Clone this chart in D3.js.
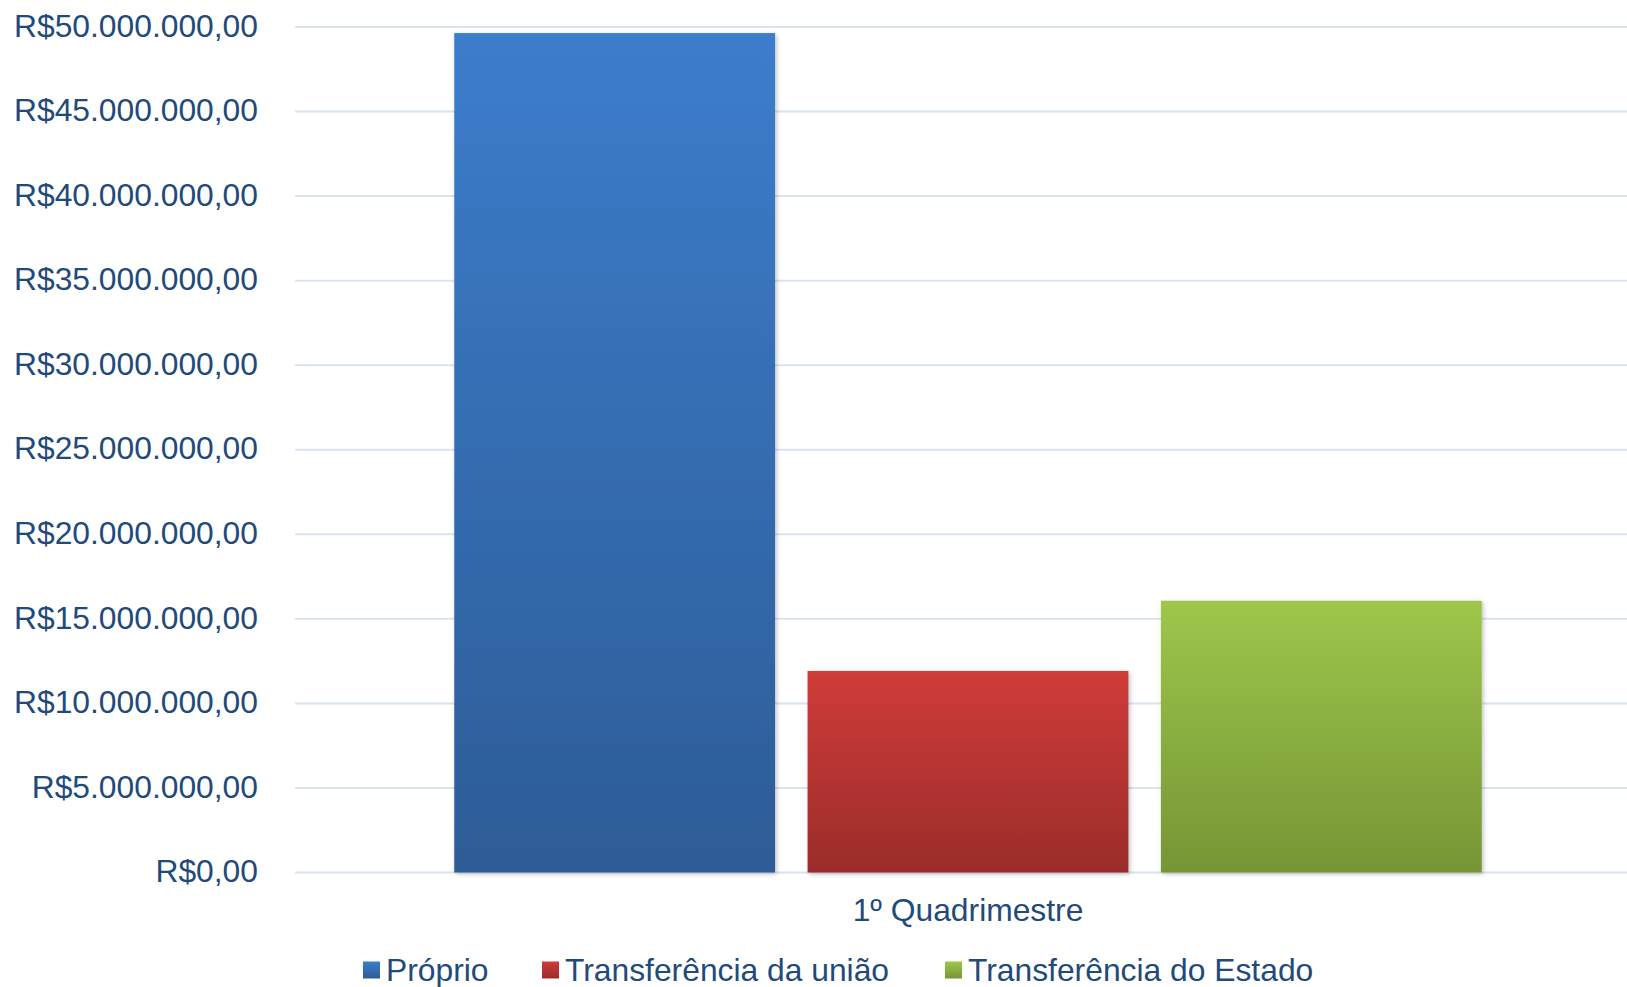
<!DOCTYPE html>
<html><head><meta charset="utf-8">
<script src="https://cdn.jsdelivr.net/npm/d3@7"></script>
<style>
html,body{margin:0;padding:0;background:#fff;}
svg{display:block;font-family:"Liberation Sans",Arial,sans-serif;}
</style></head>
<body>
<script>
const categories = ["1º Quadrimestre"];
const seriesNames = ["Próprio", "Transferência da união", "Transferência do Estado"];
const valuesProprio = [49640000];
const valuesUniao = [11920000];
const valuesEstado = [16070000];
const tickValues = [0,5e6,10e6,15e6,20e6,25e6,30e6,35e6,40e6,45e6,50e6];
const seriesColors = [["#3C7DCC","#2D5C96"],["#CF3C3A","#9B2C2A"],["#9EC64B","#769535"]];

const W = 1627, H = 987;
const FS = 31.8;
const svg = d3.select("body").append("svg").attr("width", W).attr("height", H);
const defs = svg.append("defs");
seriesColors.forEach((c,i)=>{
  const g = defs.append("linearGradient").attr("id","g"+i).attr("x1",0).attr("y1",0).attr("x2",0).attr("y2",1);
  g.append("stop").attr("offset","0%").attr("stop-color",c[0]);
  g.append("stop").attr("offset","100%").attr("stop-color",c[1]);
});
const f = defs.append("filter").attr("id","sh").attr("x","-5%").attr("y","-5%").attr("width","115%").attr("height","115%");
f.append("feDropShadow").attr("dx",1.5).attr("dy",1.5).attr("stdDeviation",2).attr("flood-color","#000").attr("flood-opacity",0.25);

const y = d3.scaleLinear().domain([0,50e6]).range([872.5,27]);
const x0 = d3.scaleBand().domain(categories).range([295,1641]).paddingInner(0).paddingOuter(0.155);
const x1 = d3.scaleBand().domain(seriesNames).range([0,x0.bandwidth()]).paddingInner(0.092);

const fmt = v => {
  const s = d3.format(",.2f")(v);
  return "R$" + s.replace(/,/g,"#").replace(".",",").replace(/#/g,".");
};

// gridlines
svg.append("g").selectAll("line").data(tickValues).join("line")
  .attr("x1",295).attr("x2",W).attr("y1",d=>y(d)).attr("y2",d=>y(d))
  .attr("stroke","#D9E3F1").attr("stroke-width",2);

// y axis labels
const yAxis = d3.axisLeft(y).tickValues(tickValues).tickFormat(fmt).tickSize(0).tickPadding(0);
const ya = svg.append("g").attr("transform","translate(258,0)").call(yAxis);
ya.select(".domain").remove();
ya.selectAll("text").attr("font-size",FS).attr("fill","#1F4A7C").attr("font-family","Liberation Sans, Arial, sans-serif").attr("dy","0.29em");

// bars
const data = categories.map((c,i)=>({cat:c, vals:[valuesProprio[i],valuesUniao[i],valuesEstado[i]]}));
const grp = svg.append("g").selectAll("g").data(data).join("g").attr("transform",d=>`translate(${x0(d.cat)},0)`);
grp.selectAll("rect").data(d=>d.vals.map((v,i)=>({name:seriesNames[i],v,i}))).join("rect")
  .attr("x",d=>x1(d.name)).attr("width",x1.bandwidth())
  .attr("y",d=>y(d.v)).attr("height",d=>y(0)-y(d.v))
  .attr("fill",d=>`url(#g${d.i})`).attr("filter","url(#sh)");

// x axis label
const xAxis = d3.axisBottom(x0).tickSize(0).tickPadding(0);
const xa = svg.append("g").attr("transform","translate(0,898)").call(xAxis);
xa.select(".domain").remove();
xa.selectAll("text").attr("font-size",FS).attr("fill","#1F4A7C").attr("font-family","Liberation Sans, Arial, sans-serif").attr("dy","0.71em").attr("dx",0);

// legend
const legX = [363, 542, 945];
const leg = svg.append("g").selectAll("g").data(seriesNames).join("g")
  .attr("transform",(d,i)=>`translate(${legX[i]},970)`);
leg.append("rect").attr("x",0).attr("y",-8.5).attr("width",17).attr("height",17).attr("fill",(d,i)=>`url(#g${i})`);
leg.append("text").attr("x",23).attr("y",0).attr("dy","0.33em").attr("font-size",FS).attr("fill","#1F4A7C").text(d=>d);
</script>
</body></html>
